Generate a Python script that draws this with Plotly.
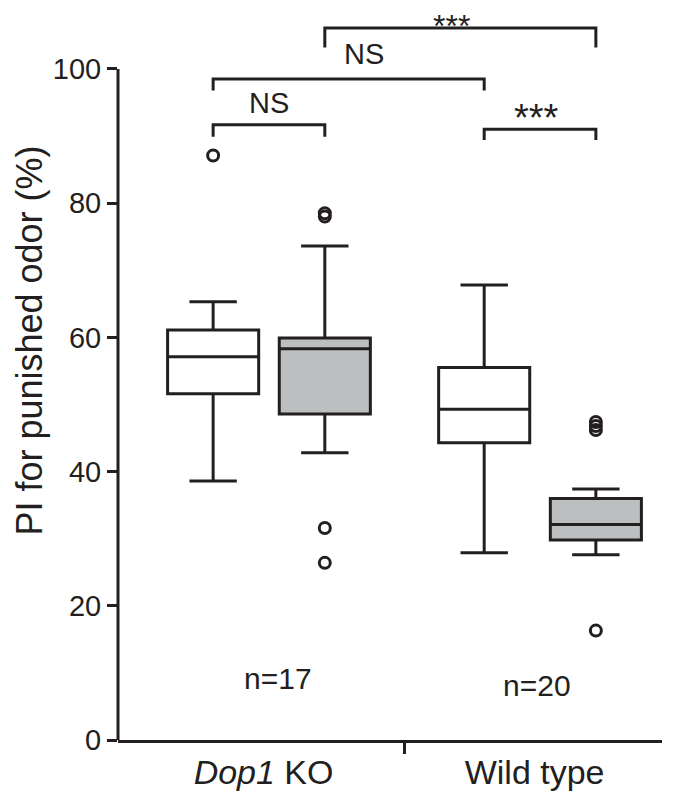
import plotly.graph_objects as go

# ---------------- data ----------------
genotypes = ["<i>Dop1</i> KO", "Wild type"]
conditions = ["control", "shock"]
n_labels = ["n=17", "n=20"]

# box order: KO-control, KO-shock, WT-control, WT-shock
q1 = [51.6, 48.6, 44.3, 29.8]
median = [57.1, 58.3, 49.3, 32.1]
q3 = [61.1, 59.9, 55.5, 36.0]
lowerfence = [38.6, 42.8, 27.9, 27.6]
upperfence = [65.3, 73.6, 67.8, 37.4]
outliers = [[87.1], [78.0, 78.5, 31.6, 26.4], [], [46.2, 46.8, 47.4, 16.3]]

# significance brackets: (box a, box b), label, bar height, tip height
bracket_pairs = [(0, 1), (2, 3), (0, 2), (1, 3)]
bracket_labels = ["NS", "***", "NS", "***"]
bracket_top = [91.7, 91.0, 98.5, 106.1]
bracket_tip = [89.9, 89.4, 96.8, 103.2]

yticks = [0, 20, 40, 60, 80, 100]

# ---------------- style / layout ----------------
INK = "#231f20"
GRAY = "#bcbec0"
FONT = "Liberation Sans, Arial, sans-serif"
YMAX = 107
fills = ["white", GRAY]
offset = 0.206
box_w = 0.336
positions = [g + s * offset for g in range(len(genotypes)) for s in (-1, 1)]
label_dx = [0.0, -0.013, 0.055, -0.031]
label_dy = [3.3, 1.7, 3.8, 0.3]
label_size = [29, 38, 29, 32]
n_pos_y = [9.2, 8.1]
n_pos_dx = [0.033, -0.01]


def to_paper(v):
    return v / YMAX


fig = go.Figure()

for i, x in enumerate(positions):
    fig.add_trace(go.Box(
        x=[x], q1=[q1[i]], median=[median[i]], q3=[q3[i]],
        lowerfence=[lowerfence[i]], upperfence=[upperfence[i]],
        width=box_w, whiskerwidth=0.52, boxpoints=False,
        fillcolor=fills[i % 2], line=dict(color=INK, width=3),
        showlegend=False, hoverinfo="skip",
    ))
    if outliers[i]:
        fig.add_trace(go.Scatter(
            x=[x] * len(outliers[i]), y=outliers[i], mode="markers",
            marker=dict(symbol="circle-open", size=11, color=INK,
                        line=dict(width=3, color=INK)),
            showlegend=False, hoverinfo="skip",
        ))

for k, (a, b) in enumerate(bracket_pairs):
    xa, xb = positions[a], positions[b]
    fig.add_trace(go.Scatter(
        x=[xa, xa, xb, xb],
        y=[bracket_tip[k], bracket_top[k], bracket_top[k], bracket_tip[k]],
        mode="lines", line=dict(color=INK, width=3),
        showlegend=False, hoverinfo="skip",
    ))
    fig.add_annotation(
        x=(xa + xb) / 2 + label_dx[k], xref="x",
        y=to_paper(bracket_top[k] + label_dy[k]), yref="paper",
        text=bracket_labels[k], showarrow=False, xanchor="center", yanchor="middle",
        font=dict(family=FONT, size=label_size[k], color=INK),
    )

for g, t in enumerate(n_labels):
    fig.add_annotation(
        x=g + n_pos_dx[g], y=n_pos_y[g], text=t, showarrow=False,
        xanchor="center", yanchor="middle",
        font=dict(family=FONT, size=30, color=INK),
    )

# invisible trace for the between-group tick axis
fig.add_trace(go.Scatter(x=[0.5], y=[0], xaxis="x2", mode="markers",
                         marker=dict(opacity=0), showlegend=False, hoverinfo="skip"))

# y axis line (only up to 100)
fig.add_shape(type="line", xref="paper", yref="y", x0=0, x1=0, y0=0, y1=max(yticks),
              line=dict(color=INK, width=3))

fig.add_annotation(
    xref="paper", yref="y", x=-0.162, y=59.5, text="PI for punished odor (%)",
    textangle=-90, showarrow=False, xanchor="center", yanchor="middle",
    font=dict(family=FONT, size=36, color=INK),
)

xr = [-0.557, 1.45]
fig.update_layout(
    width=675, height=804,
    margin=dict(l=110, r=21, t=14, b=71.5),
    paper_bgcolor="white", plot_bgcolor="white",
    font=dict(family=FONT, color=INK),
    xaxis=dict(range=xr, tickvals=[-0.02, 0.98], ticktext=genotypes,
               ticks="", showline=True, linecolor=INK, linewidth=3,
               showgrid=False, zeroline=False,
               tickfont=dict(family=FONT, size=34, color=INK)),
    xaxis2=dict(range=xr, overlaying="x", anchor="y", side="bottom",
                tickvals=[0.5], ticks="outside", ticklen=13, tickwidth=3, tickcolor=INK,
                showticklabels=False, showline=False, showgrid=False, zeroline=False),
    yaxis=dict(range=[0, YMAX], tickvals=yticks, ticks="outside", ticklen=10,
               tickwidth=3, tickcolor=INK, showline=False, showgrid=False,
               zeroline=False, tickfont=dict(family=FONT, size=29, color=INK)),
)

fig.write_html("out.html")
